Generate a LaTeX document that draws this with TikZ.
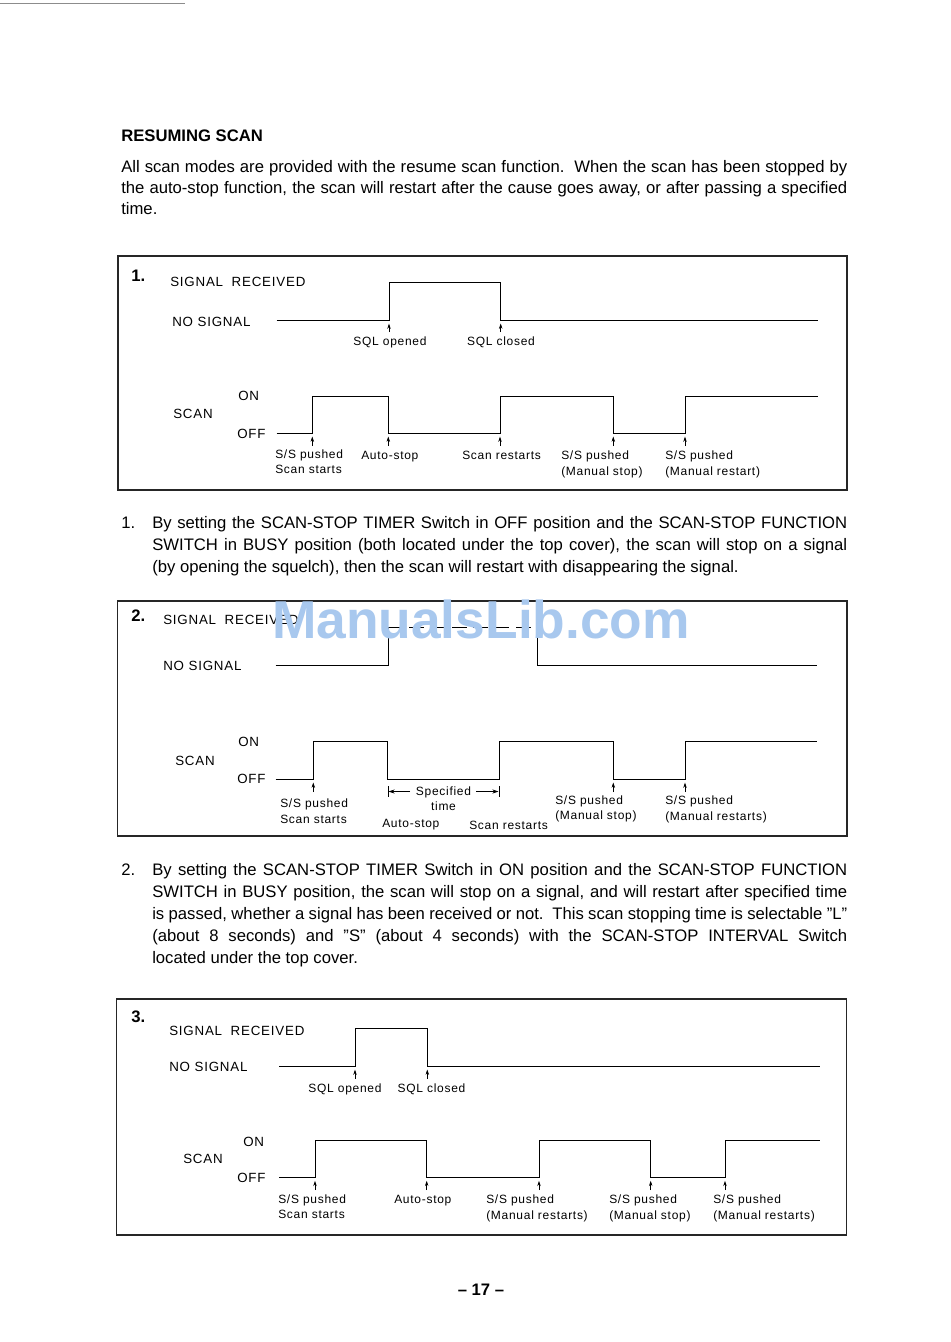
\documentclass[tikz,border=0pt]{standalone}
\usepackage{fontspec}
\setmainfont{Liberation Sans}
\newfontfamily\labfam[LetterSpace=6]{Liberation Sans}
\usetikzlibrary{arrows.meta}
\newcommand\labf{\labfam\fontsize{10}{12}\selectfont}
\newcommand\annf{\labfam\fontsize{9}{11.5}\selectfont}
\newcommand\bodyf{\fontsize{12.5}{15}\selectfont}
\newcommand\jline[4]{\node[anchor=base west,inner sep=0,font=\bodyf] (#1) at #2 {\makebox[#3][s]{#4}};}
\newcommand\nline[3]{\node[anchor=base west,inner sep=0,font=\bodyf] (#1) at #2 {#3};}
\tikzset{
  frame/.style={draw=black!85, line width=0.9pt},
  wave/.style={line width=0.75pt, black},
  lbl/.style={font=\labf, inner sep=0, anchor=base west},
  ann/.style={font=\annf, inner sep=0, anchor=base west, align=left},
  annc/.style={font=\annf, inner sep=0, anchor=base, align=center},
  uparr/.style={-{Stealth[length=4pt,width=2.6pt]}, line width=0.5pt},
  dimarr/.style={-{Stealth[length=4.5pt,width=3pt]}, line width=0.5pt},
  num/.style={font=\bodyf\bfseries, inner sep=0, anchor=base west},
}
\begin{document}
\begin{tikzpicture}[x=0.75pt,y=-0.75pt]
\useasboundingbox (0,0) rectangle (950,1342);
\fill[white] (0,0) rectangle (950,1342);
\draw[black!45, line width=0.6pt] (0,3) -- (185,3);

% heading and intro
\node[anchor=base west,inner sep=0,font=\fontsize{12.5}{15}\selectfont\bfseries] (head) at (121,141) {RESUMING SCAN};
\jline{i1}{(121,172.5)}{544.5pt}{All scan modes are provided with the resume scan function.\ \ When the scan has been stopped by}
\jline{i2}{(121,193.5)}{544.5pt}{the auto-stop function, the scan will restart after the cause goes away, or after passing a specified}
\nline{i3}{(121,214.5)}{time.}

% ===== Box 1 =====
\draw[frame] (118,256) rectangle (847,490);
\node[num] (n1) at (131,281) {1.};
\node[lbl] (sr1) at (170,286) {SIGNAL\hspace{3pt} RECEIVED};
\node[lbl] (ns1) at (172,326) {NO SIGNAL};
\draw[wave] (276.7,320.7) -- (389,320.7) -- (389,282.7) -- (500.7,282.7) -- (500.7,320.7) -- (818.3,320.7);
\draw[uparr] (389,332) -- (389,323.5);
\draw[uparr] (500.7,332) -- (500.7,323.5);
\node[annc] (sqo1) at (390,345) {SQL opened};
\node[annc] (sqc1) at (501,345) {SQL closed};
\node[lbl] (on1) at (238,400) {ON};
\node[lbl] (sc1) at (173,418) {SCAN};
\node[lbl] (of1) at (237,438) {OFF};
\draw[wave] (276.7,433.3) -- (312.3,433.3) |- (388.3,396) |- (500,433.3) |- (613.3,396) |- (685,433.3) |- (818.3,396);
\foreach \x in {312.3,388.3,500,613.3,685} \draw[uparr] (\x,446) -- (\x,436.5);
\node[ann] (a11) at (275,473.8) {S/S pushed\\Scan starts};
\node[ann] (a12) at (361,459) {Auto-stop};
\node[ann] (a13) at (462,459.5) {Scan restarts};
\node[ann] (a14) at (561,475.3) {S/S pushed\\(Manual stop)};
\node[ann] (a15) at (665,475.3) {S/S pushed\\(Manual restart)};

% paragraph 1
\node[anchor=base west,inner sep=0,font=\bodyf] (p1n) at (121,528.5) {1.};
\jline{p1a}{(152,528.5)}{521.25pt}{By setting the SCAN-STOP TIMER Switch in OFF position and the SCAN-STOP FUNCTION}
\jline{p1b}{(152,550.5)}{521.25pt}{SWITCH in BUSY position (both located under the top cover), the scan will stop on a signal}
\nline{p1c}{(152,572.5)}{(by opening the squelch), then the scan will restart with disappearing the signal.}

% ===== Box 2 =====
\draw[frame] (117.5,601) rectangle (847,836);
\node[num] (n2) at (131,621) {2.};
\node[lbl] (sr2) at (163,624) {SIGNAL\hspace{3pt} RECEIVED};
\node[lbl] (ns2) at (163,670) {NO SIGNAL};
\draw[wave] (275.7,665.7) -- (388,665.7) -- (388,627);
\draw[wave, dash pattern=on 11pt off 5pt] (388,627) -- (537,627);
\draw[wave] (537,627) -- (537,665.7) -- (817,665.7);
\node[lbl] (on2) at (238,746) {ON};
\node[lbl] (sc2) at (175,765) {SCAN};
\node[lbl] (of2) at (237,783) {OFF};
\draw[wave] (275.7,779) -- (313.3,779) |- (387.7,741) |- (499.3,779) |- (613.3,741) |- (685,779) |- (817.3,741);
\foreach \x in {313.3,613.3,685} \draw[uparr] (\x,792) -- (\x,782.5);
\draw[line width=0.5pt] (388,786) -- (388,797);
\draw[line width=0.5pt] (499,786) -- (499,797);
\draw[dimarr] (410,791.5) -- (388.5,791.5);
\draw[dimarr] (476,791.5) -- (498.5,791.5);
\node[annc] (spt) at (443.5,810.8) {Specified\\time};
\node[ann] (a21) at (280,823.3) {S/S pushed\\Scan starts};
\node[ann] (a22) at (382,827) {Auto-stop};
\node[ann] (a23) at (469,829.5) {Scan restarts};
\node[ann] (a24) at (555,819.8) {S/S pushed\\(Manual stop)};
\node[ann] (a25) at (665,820.3) {S/S pushed\\(Manual restarts)};

% paragraph 2
\node[anchor=base west,inner sep=0,font=\bodyf] (p2n) at (121,875.5) {2.};
\jline{p2a}{(152,875.5)}{521.25pt}{By setting the SCAN-STOP TIMER Switch in ON position and the SCAN-STOP FUNCTION}
\jline{p2b}{(152,897.5)}{521.25pt}{SWITCH in BUSY position, the scan will stop on a signal, and will restart after specified time}
\jline{p2c}{(152,919.5)}{521.25pt}{is passed, whether a signal has been received or not.\ \ This scan stopping time is selectable ''L''}
\jline{p2d}{(152,941.5)}{521.25pt}{(about 8 seconds) and ''S'' (about 4 seconds) with the SCAN-STOP INTERVAL Switch}
\nline{p2e}{(152,963.5)}{located under the top cover.}

% ===== Box 3 =====
\draw[frame] (116.7,999) rectangle (846.5,1235);
\node[num] (n3) at (131,1022) {3.};
\node[lbl] (sr3) at (169,1035.5) {SIGNAL\hspace{3pt} RECEIVED};
\node[lbl] (ns3) at (169,1071) {NO SIGNAL};
\draw[wave] (279.3,1066.5) -- (355,1066.5) |- (427.3,1028.3) |- (820,1066.5);
\draw[uparr] (355,1078.5) -- (355,1069.5);
\draw[uparr] (427.3,1078.5) -- (427.3,1069.5);
\node[annc] (sqo3) at (345,1092.5) {SQL opened};
\node[annc] (sqc3) at (431.5,1092.5) {SQL closed};
\node[lbl] (on3) at (243,1146) {ON};
\node[lbl] (sc3) at (183,1163) {SCAN};
\node[lbl] (of3) at (237,1182) {OFF};
\draw[wave] (279.3,1177.7) -- (315,1177.7) |- (426.7,1140) |- (539,1177.7) |- (650.7,1140) |- (725,1177.7) |- (820,1140);
\foreach \x in {315,426.7,539,650.7,725} \draw[uparr] (\x,1190) -- (\x,1180.8);
\node[ann] (a31) at (278,1218.8) {S/S pushed\\Scan starts};
\node[ann] (a32) at (394,1203.5) {Auto-stop};
\node[ann] (a33) at (486,1219.3) {S/S pushed\\(Manual restarts)};
\node[ann] (a34) at (609,1219.3) {S/S pushed\\(Manual stop)};
\node[ann] (a35) at (713,1219.3) {S/S pushed\\(Manual restarts)};

% page number
\node[anchor=base,inner sep=0,font=\fontsize{12.5}{15}\selectfont\bfseries] (pg) at (481,1295) {-- 17 --};

% watermark
\node[inner sep=0,text={rgb,255:red,168;green,200;blue,238},font=\fontsize{40}{44}\selectfont\bfseries] (wm) at (481,619) {ManualsLib.com};
\end{tikzpicture}
\end{document}
